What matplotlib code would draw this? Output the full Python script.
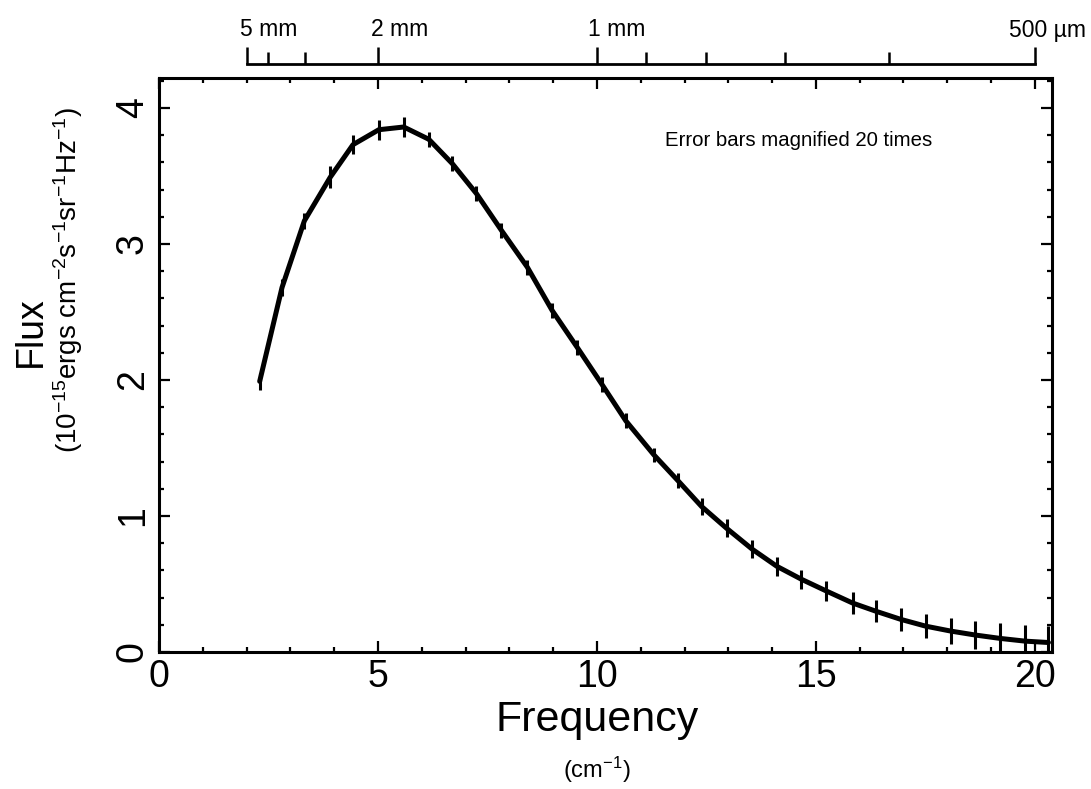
import numpy as np
import matplotlib
matplotlib.use("Agg")
import matplotlib.pyplot as plt
from matplotlib import transforms

plt.rcParams['font.family'] = ['Liberation Sans', 'DejaVu Sans']
plt.rcParams['mathtext.fontset'] = 'custom'
plt.rcParams['mathtext.rm'] = 'Liberation Sans'
plt.rcParams['mathtext.it'] = 'Liberation Sans:italic'
plt.rcParams['mathtext.default'] = 'regular'

# spectrum (frequency in cm^-1, flux in 1e-15 erg/cm2/s/sr/Hz)
freq = [2.30, 2.81, 3.32, 3.91, 4.43, 5.02, 5.59, 6.16, 6.70, 7.25, 7.82,
        8.41, 8.98, 9.55, 10.11, 10.66, 11.30, 11.85, 12.39, 12.96, 13.55,
        14.11, 14.67, 15.23, 15.84, 16.37, 16.94, 17.51, 18.08, 18.64,
        19.21, 19.78, 20.31]
flux = [1.99, 2.68, 3.17, 3.49, 3.73, 3.84, 3.86, 3.77, 3.59, 3.37, 3.10,
        2.83, 2.51, 2.24, 1.97, 1.70, 1.45, 1.26, 1.07, 0.91, 0.755,
        0.63, 0.535, 0.45, 0.36, 0.30, 0.24, 0.19, 0.154, 0.125,
        0.10, 0.08, 0.07]
# error bars as drawn (already magnified 20x)
err = [0.06, 0.06, 0.06, 0.08, 0.07, 0.073, 0.073, 0.055, 0.055, 0.055, 0.055,
       0.055, 0.055, 0.055, 0.055, 0.055, 0.05, 0.055, 0.06, 0.065, 0.067,
       0.07, 0.07, 0.075, 0.078, 0.08, 0.085, 0.09, 0.095, 0.10,
       0.11, 0.12, 0.12]

# wavelength scale on top (mm)
wl_major = [5, 2, 1, 0.5]
wl_major_labels = ["5 mm", "2 mm", "1 mm", "500 \u00b5m"]
wl_minor = [4, 3, 0.9, 0.8, 0.7, 0.6]

fig = plt.figure(figsize=(10.91, 7.89), dpi=100)
ax = fig.add_axes([0.1457, 0.1736, 0.8185, 0.7275])

ax.errorbar(freq, flux, yerr=err, fmt='none', ecolor='black', elinewidth=2.2, capsize=0)
ax.plot(freq, flux, color='black', lw=3.6, solid_capstyle='round', solid_joinstyle='round')

ax.set_xlim(0, 20.39)
ax.set_ylim(0, 4.22)
ax.set_xticks([0, 5, 10, 15, 20])
ax.set_xticks(np.arange(0, 21, 1), minor=True)
ax.set_yticks([0, 1, 2, 3, 4])
ax.set_yticks(np.arange(0, 4.21, 0.2), minor=True)
ax.tick_params(which='both', direction='in', top=True, right=True, width=1.6)
ax.tick_params(which='major', length=8, labelsize=27)
ax.tick_params(which='minor', length=3.5)
ax.tick_params(axis='x', pad=5)
ax.tick_params(axis='y', pad=6)
for lab in ax.get_yticklabels():
    lab.set_rotation(90)
    lab.set_va('center')
    lab.set_ha('right')
for s in ax.spines.values():
    s.set_linewidth(2.2)

ax.text(11.55, 3.76, "Error bars magnified 20 times", fontsize=14.7, va='center', ha='left')

# wavelength axis above the plot
wl_fig_y = 1 - 64 / 789
axt = fig.add_axes([0.1457, wl_fig_y, 0.8185, 0.001])
axt.set_xlim(ax.get_xlim())
axt.patch.set_visible(False)
for k in ['top', 'left', 'right']:
    axt.spines[k].set_visible(False)
axt.spines['bottom'].set_linewidth(2.0)
axt.spines['bottom'].set_bounds(10 / wl_major[0], 10 / wl_major[-1])
axt.set_xticks([10 / w for w in wl_major])
axt.set_xticks([10 / w for w in wl_minor], minor=True)
axt.set_yticks([])
axt.tick_params(which='both', direction='in', width=1.8, labelbottom=False)
axt.tick_params(which='major', length=12)
axt.tick_params(which='minor', length=8.5)

trans = transforms.blended_transform_factory(ax.transData, fig.transFigure)
offsets = [-0.15, -0.15, -0.2, -0.6]
for w, lab, off in zip(wl_major, wl_major_labels, offsets):
    fig.text(10 / w + off, 1 - 30 / 789, lab, transform=trans, fontsize=16.5,
             ha='left', va='center')

# axis labels
fig.text(0.547, 0.088, "Frequency", fontsize=31, ha='center', va='center')
fig.text(0.547, 0.024, r"(cm$^{-1}$)", fontsize=17, ha='center', va='center')
fig.text(0.028, 0.58, "Flux", fontsize=27, rotation=90, ha='center', va='center')
fig.text(0.062, 0.645, r"(10$^{-15}$ergs cm$^{-2}$s$^{-1}$sr$^{-1}$Hz$^{-1}$)",
         fontsize=20, rotation=90, ha='center', va='center')

fig.savefig("out.png", dpi=100)
